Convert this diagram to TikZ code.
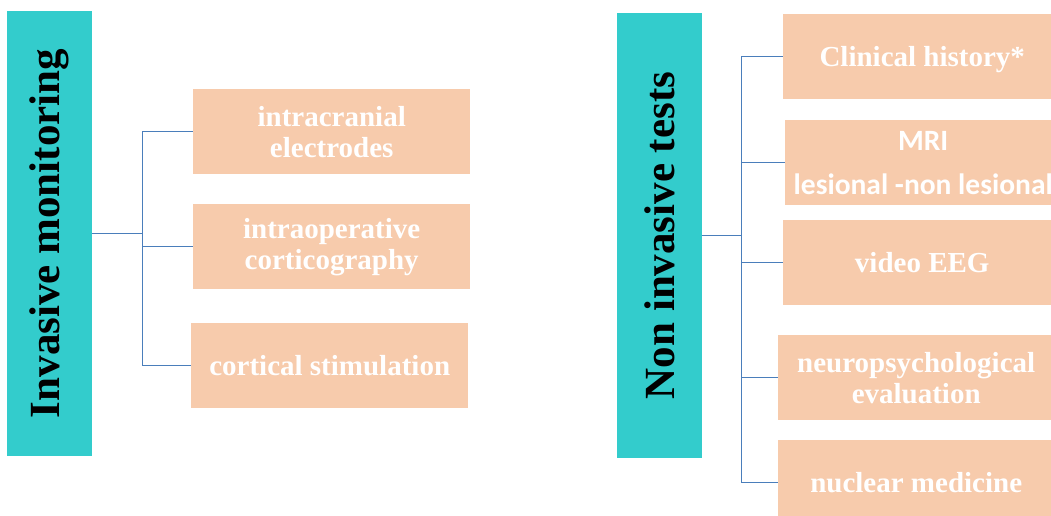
\documentclass[tikz,border=0pt]{standalone}
\usepackage{fontspec}
\setmainfont{Liberation Serif}
\newfontfamily\calib{Carlito}
\definecolor{tealbox}{HTML}{33CCCC}
\definecolor{peach}{HTML}{F7CBAC}
\definecolor{conn}{HTML}{4A7EBB}
\begin{document}
\begin{tikzpicture}[x=1pt,y=-1pt,
  titlebox/.style={fill=tealbox, inner sep=0pt, rotate=90, minimum width=445pt, minimum height=85pt,
    font=\fontsize{43}{46}\selectfont\bfseries, text=black},
  itembox/.style={fill=peach, inner sep=0pt, anchor=north west, minimum width=277pt, minimum height=85pt,
    align=center, text=white, font=\fontsize{29}{31}\selectfont\bfseries},
  link/.style={draw=conn, line width=1.3pt}]
\path[use as bounding box, clip] (0,0) rectangle (1051,516);
\fill[white] (0,0) rectangle (1051,516);
% left group
\node[titlebox] (t1) at (49.5,233.5) {Invasive monitoring};
\node[itembox] (a1) at (193,89) {intracranial\\electrodes};
\node[itembox] (a2) at (193,204) {intraoperative\\corticography};
\node[itembox] (a3) at (191,323) {cortical stimulation};
\draw[link] (t1.south) -- ++(50,0) coordinate (j1);
\draw[link] (j1 |- a1.west) -- (j1 |- a3.west);
\foreach \n in {a1,a2,a3} \draw[link] (j1 |- \n.west) -- (\n.west);
% right group
\node[titlebox] (t2) at (659.5,235.5) {Non invasive tests};
\node[itembox, minimum width=278pt, text depth=0pt] (b1) at (783,14) {Clinical history*};
\node[itembox, minimum width=276pt, font=\calib\fontsize{29.5}{44}\selectfont\bfseries] (b2) at (785,120) {MRI\\lesional -non lesional};
\node[itembox, minimum width=278pt] (b3) at (783,220) {video EEG};
\node[itembox, minimum width=276pt] (b4) at (778,335) {neuropsychological\\evaluation};
\node[itembox, minimum width=276pt] (b5) at (778,440) {nuclear medicine};
\draw[link] (t2.south) -- ++(39,0) coordinate (j2);
\draw[link] (j2 |- b1.west) -- (j2 |- b5.west);
\foreach \n in {b1,b2,b3,b4,b5} \draw[link] (j2 |- \n.west) -- (\n.west);
\end{tikzpicture}
\end{document}
